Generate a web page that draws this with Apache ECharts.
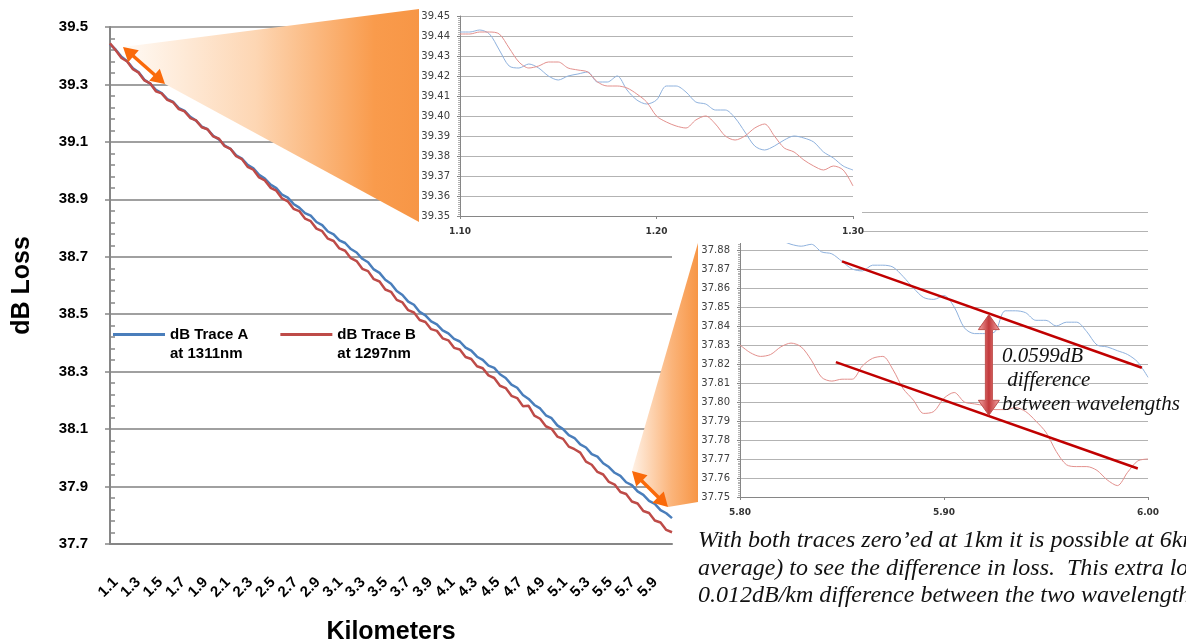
<!DOCTYPE html>
<html>
<head>
<meta charset="utf-8">
<title>dB Loss vs Kilometers</title>
<script src="https://cdn.jsdelivr.net/npm/echarts@6.0.0/dist/echarts.min.js"></script>
<style>
  html, body { margin: 0; padding: 0; background: #fff; }
  #chart { width: 1186px; height: 641px; }
</style>
</head>
<body>
<div id="chart"></div>
<script>
// ---- data ----
const kmLabels = ['1.1','1.2','1.3','1.4','1.5','1.6','1.7','1.8','1.9','2.0',
  '2.1','2.2','2.3','2.4','2.5','2.6','2.7','2.8','2.9','3.0',
  '3.1','3.2','3.3','3.4','3.5','3.6','3.7','3.8','3.9','4.0',
  '4.1','4.2','4.3','4.4','4.5','4.6','4.7','4.8','4.9','5.0',
  '5.1','5.2','5.3','5.4','5.5','5.6','5.7','5.8','5.9','6.0'];

const nameA = 'dB Trace A\nat 1311nm';
const nameB = 'dB Trace B\nat 1297nm';

// main traces, sampled every 0.05 km
const traceKm = [1.10,1.15,1.20,1.25,1.30,1.35,1.40,1.45,1.50,1.55,
  1.60,1.65,1.70,1.75,1.80,1.85,1.90,1.95,2.00,2.05,
  2.10,2.15,2.20,2.25,2.30,2.35,2.40,2.45,2.50,2.55,
  2.60,2.65,2.70,2.75,2.80,2.85,2.90,2.95,3.00,3.05,
  3.10,3.15,3.20,3.25,3.30,3.35,3.40,3.45,3.50,3.55,
  3.60,3.65,3.70,3.75,3.80,3.85,3.90,3.95,4.00,4.05,
  4.10,4.15,4.20,4.25,4.30,4.35,4.40,4.45,4.50,4.55,
  4.60,4.65,4.70,4.75,4.80,4.85,4.90,4.95,5.00,5.05,
  5.10,5.15,5.20,5.25,5.30,5.35,5.40,5.45,5.50,5.55,
  5.60,5.65,5.70,5.75,5.80,5.85,5.90,5.95,6.00];
const traceA = [39.440,39.421,39.396,39.381,39.356,39.342,39.316,39.303,39.281,39.270,
  39.249,39.239,39.218,39.208,39.187,39.174,39.153,39.144,39.121,39.109,
  39.087,39.076,39.053,39.042,39.020,39.008,38.985,38.972,38.951,38.939,
  38.916,38.906,38.884,38.871,38.852,38.843,38.821,38.810,38.788,38.778,
  38.757,38.748,38.727,38.715,38.693,38.681,38.656,38.644,38.620,38.606,
  38.581,38.567,38.544,38.533,38.508,38.496,38.475,38.465,38.444,38.433,
  38.414,38.405,38.384,38.373,38.352,38.341,38.321,38.313,38.291,38.278,
  38.255,38.244,38.219,38.205,38.184,38.172,38.148,38.138,38.113,38.100,
  38.079,38.069,38.047,38.036,38.013,38.004,37.981,37.968,37.948,37.937,
  37.915,37.905,37.883,37.871,37.850,37.840,37.818,37.807,37.790];
const traceB = [39.443,39.419,39.392,39.380,39.353,39.341,39.314,39.304,39.276,39.269,
  39.246,39.238,39.214,39.206,39.183,39.175,39.151,39.144,39.119,39.111,
  39.085,39.076,39.050,39.040,39.013,39.003,38.976,38.966,38.940,38.930,
  38.903,38.893,38.867,38.859,38.833,38.824,38.798,38.789,38.763,38.755,
  38.729,38.721,38.695,38.685,38.658,38.650,38.622,38.614,38.586,38.578,
  38.550,38.541,38.514,38.506,38.480,38.473,38.448,38.442,38.416,38.409,
  38.383,38.377,38.351,38.344,38.319,38.312,38.287,38.278,38.251,38.243,
  38.216,38.208,38.180,38.181,38.147,38.136,38.110,38.101,38.074,38.066,
  38.039,38.030,38.018,37.987,37.976,37.951,37.942,37.916,37.907,37.881,
  37.874,37.848,37.841,37.815,37.808,37.782,37.775,37.749,37.741];

// zoom on the start of the fibre (1.10 - 1.30 km)
const startKm = [1.100,1.105,1.110,1.115,1.120,1.125,1.130,1.135,1.140,1.145,
  1.150,1.155,1.160,1.165,1.170,1.175,1.180,1.185,1.190,1.195,
  1.200,1.205,1.210,1.215,1.220,1.225,1.230,1.235,1.240,1.245,
  1.250,1.255,1.260,1.265,1.270,1.275,1.280,1.285,1.290,1.295,1.300];
const startA = [39.442,39.442,39.443,39.441,39.433,39.425,39.424,39.426,39.424,39.420,
  39.418,39.420,39.421,39.422,39.417,39.417,39.420,39.413,39.408,39.406,
  39.408,39.415,39.415,39.412,39.407,39.406,39.403,39.403,39.399,39.392,
  39.385,39.383,39.385,39.388,39.390,39.389,39.387,39.382,39.379,39.375,39.373];
const startB = [39.441,39.441,39.442,39.442,39.441,39.434,39.427,39.424,39.425,39.427,
  39.427,39.424,39.423,39.422,39.417,39.415,39.415,39.414,39.411,39.407,
  39.400,39.397,39.395,39.394,39.398,39.400,39.396,39.390,39.388,39.390,
  39.394,39.396,39.390,39.384,39.382,39.378,39.375,39.373,39.375,39.373,39.365];

// zoom on the end of the fibre (5.80 - 6.00 km)
const endKm = [5.800,5.805,5.810,5.815,5.820,5.825,5.830,5.835,5.840,5.845,
  5.850,5.855,5.860,5.865,5.870,5.875,5.880,5.885,5.890,5.895,
  5.900,5.905,5.910,5.915,5.920,5.925,5.930,5.935,5.940,5.945,
  5.950,5.955,5.960,5.965,5.970,5.975,5.980,5.985,5.990,5.995,6.000];
const endA = [37.890,37.889,37.888,37.886,37.885,37.883,37.882,37.883,37.879,37.878,
  37.874,37.870,37.869,37.872,37.872,37.871,37.866,37.860,37.855,37.854,
  37.856,37.850,37.839,37.836,37.836,37.837,37.848,37.848,37.847,37.843,
  37.843,37.840,37.842,37.842,37.837,37.830,37.829,37.827,37.825,37.821,37.813];
const endB = [37.830,37.826,37.824,37.825,37.829,37.831,37.829,37.822,37.813,37.811,
  37.812,37.812,37.819,37.823,37.824,37.817,37.807,37.801,37.794,37.795,
  37.802,37.805,37.800,37.799,37.798,37.796,37.796,37.797,37.795,37.790,
  37.784,37.774,37.767,37.766,37.766,37.764,37.759,37.756,37.763,37.769,37.770];

// hand drawn trend lines and the difference arrow in the end zoom
const fitAKm = [5.850, 5.997];
const fitA = [37.874, 37.818];
const fitBKm = [5.847, 5.995];
const fitB = [37.821, 37.765];
const diffKm = [5.922];
const diffTop = [37.846];
const diffBottom = [37.793];

const pairs = (xs, ys) => xs.map((x, i) => [x, ys[i]]);

function arrowPoints(p1, p2, shaft, headW, headL) {
  const dx = p2[0] - p1[0], dy = p2[1] - p1[1];
  const len = Math.hypot(dx, dy);
  const ux = dx / len, uy = dy / len, nx = -uy, ny = ux;
  const at = (p, along, side) => [p[0] + ux * along + nx * side, p[1] + uy * along + ny * side];
  return [
    p1, at(p1, headL, headW / 2), at(p1, headL, shaft / 2),
    at(p2, -headL, shaft / 2), at(p2, -headL, headW / 2), p2,
    at(p2, -headL, -headW / 2), at(p2, -headL, -shaft / 2),
    at(p1, headL, -shaft / 2), at(p1, headL, -headW / 2)
  ];
}

const sans = '"Liberation Sans", Arial, sans-serif';
const serif = '"Liberation Serif", "Times New Roman", serif';
const axisGray = '#868686';

const insetY = (min, max, z) => ({
  type: 'value', min: min, max: max, interval: 0.01, z: z,
  axisLine: { show: true, lineStyle: { color: axisGray, width: 1 } },
  axisTick: { show: true, length: 3, lineStyle: { color: axisGray } },
  minorTick: { show: true, splitNumber: 10, length: 2, lineStyle: { color: '#b0b0b0' } },
  axisLabel: { margin: 10, fontSize: 10, fontFamily: '"DejaVu Sans", sans-serif', color: '#404040',
    formatter: v => v.toFixed(2) },
  splitLine: { show: true, lineStyle: { color: '#b3b3b3', width: 1 } }
});
const insetX = (min, max, z) => ({
  type: 'value', min: min, max: max, interval: 0.1, z: z,
  axisLine: { lineStyle: { color: axisGray, width: 1 } },
  axisTick: { show: true, length: 3, lineStyle: { color: axisGray } },
  axisLabel: { margin: 11, fontSize: 9, fontWeight: 'bold', fontFamily: '"DejaVu Sans", sans-serif',
    color: '#333', formatter: v => v.toFixed(2) },
  splitLine: { show: false }
});

const fade = (stops) => ({
  type: 'linear', x: 0, y: 0, x2: 1, y2: 0,
  colorStops: stops.map(s => ({ offset: s[0], color: s[1] }))
});

const option = {
  animation: false,
  backgroundColor: '#fff',
  grid: [
    { left: 110, top: 27, width: 562, height: 517, outerBoundsMode: 'none' },
    { left: 460, top: 16, width: 393, height: 200, outerBoundsMode: 'none' },
    { left: 740, top: 212, width: 408, height: 285, outerBoundsMode: 'none' }
  ],
  legend: {
    data: [nameA, nameB],
    left: 113, top: 306, padding: 0,
    icon: 'rect', itemWidth: 52, itemHeight: 3, itemGap: 32,
    // blank first line keeps the first text line level with the line icon
    formatter: name => '\u00a0\n' + name,
    textStyle: { fontFamily: sans, fontWeight: 'bold', fontSize: 15, color: '#000', lineHeight: 19 }
  },
  xAxis: [
    {
      gridIndex: 0, type: 'category', data: kmLabels, boundaryGap: true,
      axisLine: { lineStyle: { color: axisGray, width: 2 } },
      axisTick: { interval: 0, length: 5, lineStyle: { color: axisGray, width: 1.5 } },
      axisLabel: { interval: 1, rotate: 45, margin: 36, fontFamily: sans, fontWeight: 'bold',
        fontSize: 15, color: '#000' },
      name: 'Kilometers', nameLocation: 'middle', nameGap: 76,
      nameTextStyle: { fontFamily: sans, fontWeight: 'bold', fontSize: 25, color: '#000' }
    },
    { gridIndex: 0, type: 'value', min: 1.1, max: 6.0, show: false },
    Object.assign(insetX(1.1, 1.3, 9), { gridIndex: 1 }),
    Object.assign(insetX(5.8, 6.0, 1), { gridIndex: 2 })
  ],
  yAxis: [
    {
      gridIndex: 0, type: 'value', min: 37.7, max: 39.5, interval: 0.2,
      axisLine: { show: true, lineStyle: { color: axisGray, width: 2 } },
      axisTick: { show: true, length: 5, lineStyle: { color: axisGray, width: 1.5 } },
      axisLabel: { margin: 22, fontFamily: sans, fontWeight: 'bold', fontSize: 15, color: '#000',
        formatter: v => v.toFixed(1) },
      splitLine: { lineStyle: { color: '#a0a0a0', width: 2 } },
      name: 'dB Loss', nameLocation: 'middle', nameGap: 75,
      nameTextStyle: { fontFamily: sans, fontWeight: 'bold', fontSize: 25, color: '#000' }
    },
    {
      gridIndex: 0, type: 'value', position: 'left', min: 37.7, max: 39.5, interval: 0.2,
      axisLine: { show: false },
      axisTick: { show: false, inside: true },
      minorTick: { show: true, splitNumber: 5, length: 5, lineStyle: { color: axisGray, width: 1.5 } },
      axisLabel: { show: false },
      splitLine: { show: false }
    },
    Object.assign(insetY(39.35, 39.45, 9), { gridIndex: 1 }),
    Object.assign(insetY(37.75, 37.90, 1), { gridIndex: 2 })
  ],
  series: [
    { name: nameA, type: 'line', xAxisIndex: 1, yAxisIndex: 0, data: pairs(traceKm, traceA),
      showSymbol: false, color: '#4a7ebb', lineStyle: { width: 2.5 }, z: 2 },
    { name: nameB, type: 'line', xAxisIndex: 1, yAxisIndex: 0, data: pairs(traceKm, traceB),
      showSymbol: false, color: '#be4b48', lineStyle: { width: 2.5 }, z: 2 },
    { name: 'start A', type: 'line', xAxisIndex: 2, yAxisIndex: 2, data: pairs(startKm, startA),
      showSymbol: false, smooth: 0.3, color: '#8fb2de', lineStyle: { width: 1 }, z: 10 },
    { name: 'start B', type: 'line', xAxisIndex: 2, yAxisIndex: 2, data: pairs(startKm, startB),
      showSymbol: false, smooth: 0.3, color: '#e3908d', lineStyle: { width: 1 }, z: 10 },
    { name: 'end A', type: 'line', xAxisIndex: 3, yAxisIndex: 3, data: pairs(endKm, endA),
      showSymbol: false, smooth: 0.3, color: '#8fb2de', lineStyle: { width: 1 }, z: 3 },
    { name: 'end B', type: 'line', xAxisIndex: 3, yAxisIndex: 3, data: pairs(endKm, endB),
      showSymbol: false, smooth: 0.3, color: '#e3908d', lineStyle: { width: 1 }, z: 3 },
    { name: 'fit A', type: 'line', xAxisIndex: 3, yAxisIndex: 3, data: pairs(fitAKm, fitA),
      showSymbol: false, color: '#c00000', lineStyle: { width: 2.5 }, z: 4 },
    { name: 'fit B', type: 'line', xAxisIndex: 3, yAxisIndex: 3, data: pairs(fitBKm, fitB),
      showSymbol: false, color: '#c00000', lineStyle: { width: 2.5 }, z: 4 },
    {
      name: 'difference', type: 'custom', xAxisIndex: 3, yAxisIndex: 3, z: 20, clip: false,
      data: diffKm.map((k, i) => [k, diffTop[i], diffBottom[i]]),
      renderItem: (params, api) => {
        const p1 = api.coord([api.value(0), api.value(1)]);
        const p2 = api.coord([api.value(0), api.value(2)]);
        return {
          type: 'polygon',
          shape: { points: arrowPoints(p1, p2, 7, 21, 15) },
          style: {
            fill: fade([[0, '#f5a9a9'], [0.5, '#c2393b'], [1, '#f5a9a9']]),
            stroke: '#c0504d', lineWidth: 1
          }
        };
      }
    }
  ],
  graphic: [
    { type: 'polygon', z: 5, shape: { points: [[123, 47], [419, 9], [419, 222], [165, 84]] },
      style: { fill: fade([[0, '#fffaf5'], [0.45, '#fdd6b3'], [0.85, '#f99b4c'], [1, '#f79646']]) } },
    { type: 'polygon', z: 5, shape: { points: [[632, 471], [698, 243], [698, 502], [668, 507]] },
      style: { fill: fade([[0, '#fff1e5'], [0.6, '#fbb47a'], [1, '#f79646']]) } },
    { type: 'rect', z: 8, shape: { x: 419, y: 0, width: 443, height: 243 }, style: { fill: '#fff' } },
    { type: 'polygon', z: 6, shape: { points: arrowPoints([123, 47], [165, 84], 3.5, 16, 14) },
      style: { fill: '#fa6a0a' } },
    { type: 'polygon', z: 6, shape: { points: arrowPoints([632, 471], [668, 507], 3.5, 16, 14) },
      style: { fill: '#fa6a0a' } },
    { type: 'text', z: 20, x: 1002, y: 344,
      style: { text: '0.0599dB\n difference\nbetween wavelengths', fontFamily: serif,
        fontStyle: 'italic', fontSize: 21, lineHeight: 24, fill: '#111' } },
    { type: 'text', z: 20, x: 698, y: 527,
      style: { text: 'With both traces zero\u2019ed at 1km it is possible at 6km (on\n' +
        'average) to see the difference in loss.  This extra loss is a\n' +
        '0.012dB/km difference between the two wavelengths.',
        fontFamily: serif, fontStyle: 'italic', fontSize: 24, lineHeight: 27.5, fill: '#111' } }
  ]
};

const chart = echarts.init(document.getElementById('chart'));
chart.setOption(option);
</script>
</body>
</html>
